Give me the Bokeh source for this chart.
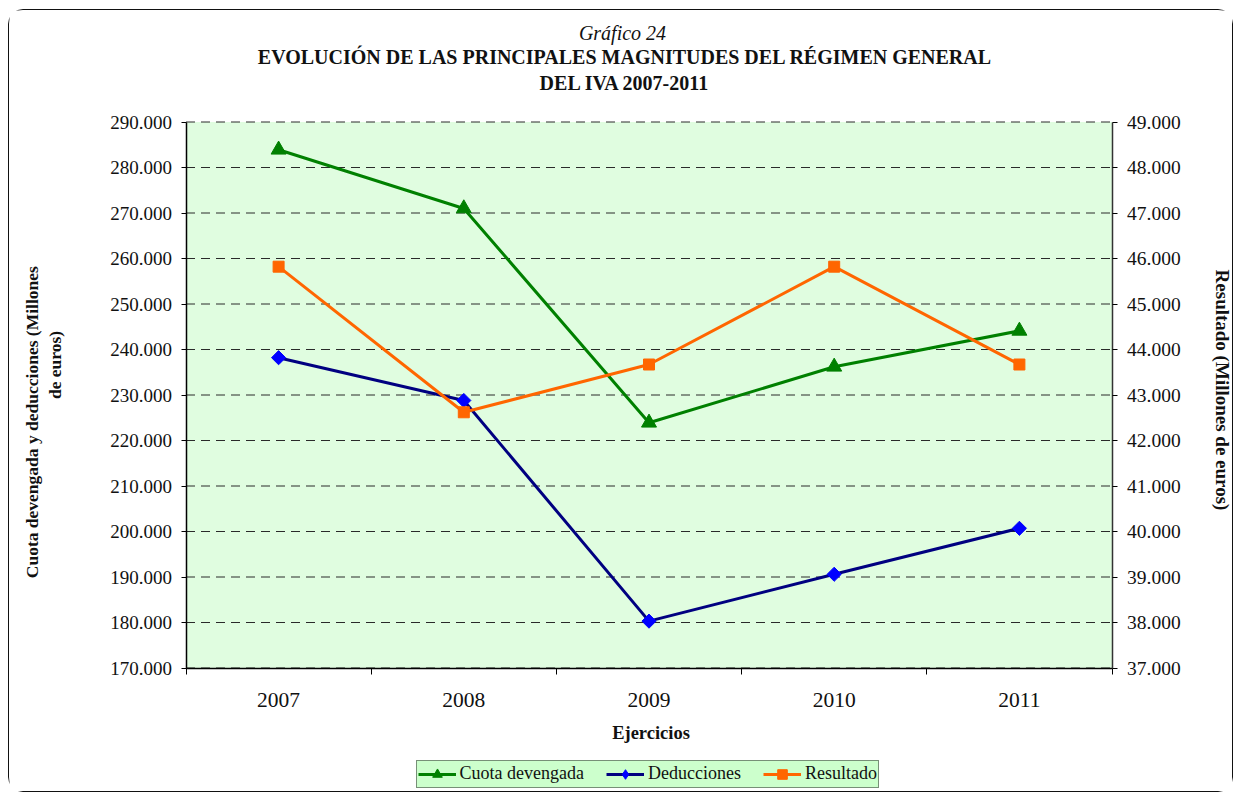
import math
from bokeh.plotting import figure
from bokeh.models import Range1d, LinearAxis, FixedTicker, Label, BoxAnnotation
from bokeh.embed import file_html
from bokeh.resources import INLINE

years = [2007, 2008, 2009, 2010, 2011]
year_labels = ["2007", "2008", "2009", "2010", "2011"]
cuota = [283900, 271000, 223900, 236200, 244100]
deducciones = [238200, 228800, 180300, 190600, 200700]
resultado = [45820, 42620, 43670, 45820, 43670]
left_ticks = [170000, 180000, 190000, 200000, 210000, 220000, 230000,
              240000, 250000, 260000, 270000, 280000, 290000]
left_labels = ["170.000", "180.000", "190.000", "200.000", "210.000", "220.000",
               "230.000", "240.000", "250.000", "260.000", "270.000", "280.000", "290.000"]
right_ticks = [37000, 38000, 39000, 40000, 41000, 42000, 43000,
               44000, 45000, 46000, 47000, 48000, 49000]
right_labels = ["37.000", "38.000", "39.000", "40.000", "41.000", "42.000", "43.000",
                "44.000", "45.000", "46.000", "47.000", "48.000", "49.000"]
boundaries = [2006.5, 2007.5, 2008.5, 2009.5, 2010.5, 2011.5]

FONT = "Liberation Serif"

# layout (page pixels)
W, H = 1225, 783
OX, OY = 9.5, 10.5            # canvas origin on the page
PL, PR, PT, PB = 186, 1112, 122, 668   # plot area on the page
X0, X1 = boundaries[0], boundaries[-1]
Y0, Y1 = left_ticks[0], left_ticks[-1]
R0, R1 = right_ticks[0], right_ticks[-1]
kx = (X1 - X0) / (PR - PL)
ky = (Y1 - Y0) / (PB - PT)
kr = (R1 - R0) / (PB - PT)

p = figure(width=W, height=H, output_backend="svg", toolbar_location=None,
           x_axis_location=None, y_axis_location=None, min_border=0,
           x_range=Range1d(X0 - (PL - OX) * kx, X1 + (OX + W - PR) * kx),
           y_range=Range1d(Y0 - (OY + H - PB) * ky, Y1 + (PT - OY) * ky))
p.margin = (9, 0, 0, 8)
p.styles = {"border": "1.5px solid #111", "border-radius": "15px"}
p.extra_y_ranges = {"right": Range1d(R0 - (OY + H - PB) * kr, R1 + (PT - OY) * kr)}
p.background_fill_color = "white"
p.border_fill_color = "white"
p.outline_line_color = None
for g in p.grid:
    g.visible = False

# plot area
p.add_layout(BoxAnnotation(left=X0, right=X1, bottom=Y0, top=Y1,
                           fill_color="#e0fde0", fill_alpha=1,
                           line_color=None, level="underlay"))
p.segment(x0=[X0] * len(left_ticks), x1=[X1] * len(left_ticks),
          y0=left_ticks, y1=left_ticks, line_color="#2a2a2a",
          line_dash="9 6", line_width=1)

# x axis
xa = LinearAxis(fixed_location=Y0, bounds=(X0, X1),
                ticker=FixedTicker(ticks=years, minor_ticks=boundaries))
xa.major_label_overrides = {y: l for y, l in zip(years, year_labels)}
xa.major_tick_line_color = None
xa.minor_tick_in = 0
xa.minor_tick_out = 6
xa.minor_tick_line_color = "black"
xa.axis_line_color = "black"
xa.axis_line_width = 1.5
xa.major_label_text_font = FONT
xa.major_label_text_font_size = "21.5px"
xa.major_label_text_color = "#111111"
xa.major_label_standoff = 19
p.add_layout(xa, "below")

# left axis
ya = LinearAxis(fixed_location=X0, bounds=(Y0, Y1), ticker=FixedTicker(ticks=left_ticks))
ya.major_label_overrides = {t: l for t, l in zip(left_ticks, left_labels)}
ya.minor_tick_line_color = None
ya.major_tick_in = 0
ya.major_tick_out = 5
ya.axis_line_color = "black"
ya.axis_line_width = 1.5
ya.major_label_text_font = FONT
ya.major_label_text_font_size = "19px"
ya.major_label_text_color = "#111111"
ya.major_label_standoff = 9
p.add_layout(ya, "left")

# right axis
ra = LinearAxis(y_range_name="right", fixed_location=X1, bounds=(R0, R1),
                ticker=FixedTicker(ticks=right_ticks))
ra.major_label_overrides = {t: l for t, l in zip(right_ticks, right_labels)}
ra.minor_tick_line_color = None
ra.major_tick_in = 0
ra.major_tick_out = 5
ra.axis_line_color = "#333333"
ra.axis_line_width = 1.5
ra.major_label_text_font = FONT
ra.major_label_text_font_size = "19.5px"
ra.major_label_text_color = "#111111"
ra.major_label_standoff = 10
p.add_layout(ra, "right")

# series
p.line(years, cuota, color="#008000", line_width=3, legend_label="Cuota devengada")
p.scatter(years, cuota, marker="triangle", size=15, color="#008000",
          legend_label="Cuota devengada")
p.line(years, deducciones, color="#000080", line_width=3, legend_label="Deducciones")
p.scatter(years, deducciones, marker="square", size=10, angle=math.pi / 4,
          color="#0000ff")
# legend swatch for the diamond markers (a single undrawn NaN point)
p.scatter(x=[float("nan")], y=[float("nan")], marker="diamond", size=12,
          color="#0000ff", legend_label="Deducciones")
p.line(years, resultado, color="#ff6600", line_width=3, legend_label="Resultado",
       y_range_name="right")
p.scatter(years, resultado, marker="square", size=11, color="#ff6600",
          legend_label="Resultado", y_range_name="right")

lg = p.legend[0]
lg.orientation = "horizontal"
lg.location = (416 - OX, OY + H - 788)
lg.background_fill_color = "#ccffcc"
lg.background_fill_alpha = 1
lg.border_line_color = "#222222"
lg.border_line_width = 1.5
lg.label_text_font = FONT
lg.label_text_font_size = "18px"
lg.label_text_color = "#111111"
lg.glyph_width = 38
lg.glyph_height = 24
lg.label_height = 18
lg.label_standoff = 4
lg.spacing = 22
lg.padding = 1
lg.margin = 0

# titles and axis labels, placed by page pixel position
def lab(text, px, py, size="18px", style="bold", angle=0):
    p.add_layout(Label(x=px - OX, y=OY + H - py, x_units="screen", y_units="screen",
                       text=text, text_font=FONT, text_font_size=size,
                       text_font_style=style, text_align="center",
                       text_color="#111111", text_baseline="middle", angle=angle))

lab("Gráfico  24", 625, 33, size="20px", style="italic")
lab("EVOLUCIÓN DE LAS PRINCIPALES MAGNITUDES DEL RÉGIMEN GENERAL", 625, 57, size="20px")
lab("DEL IVA 2007-2011", 625, 83, size="20px")
lab("Ejercicios", 651, 733, size="18.5px")
lab("Cuota devengada y deducciones  (Millones", 32, 420, size="17.5px", angle=math.pi / 2)
lab("de euros)", 55, 365, size="17.5px", angle=math.pi / 2)
lab("Resultado (Millones de euros)", 1222, 390, size="19px", angle=-math.pi / 2)

open("out.html", "w").write(file_html(p, INLINE))
